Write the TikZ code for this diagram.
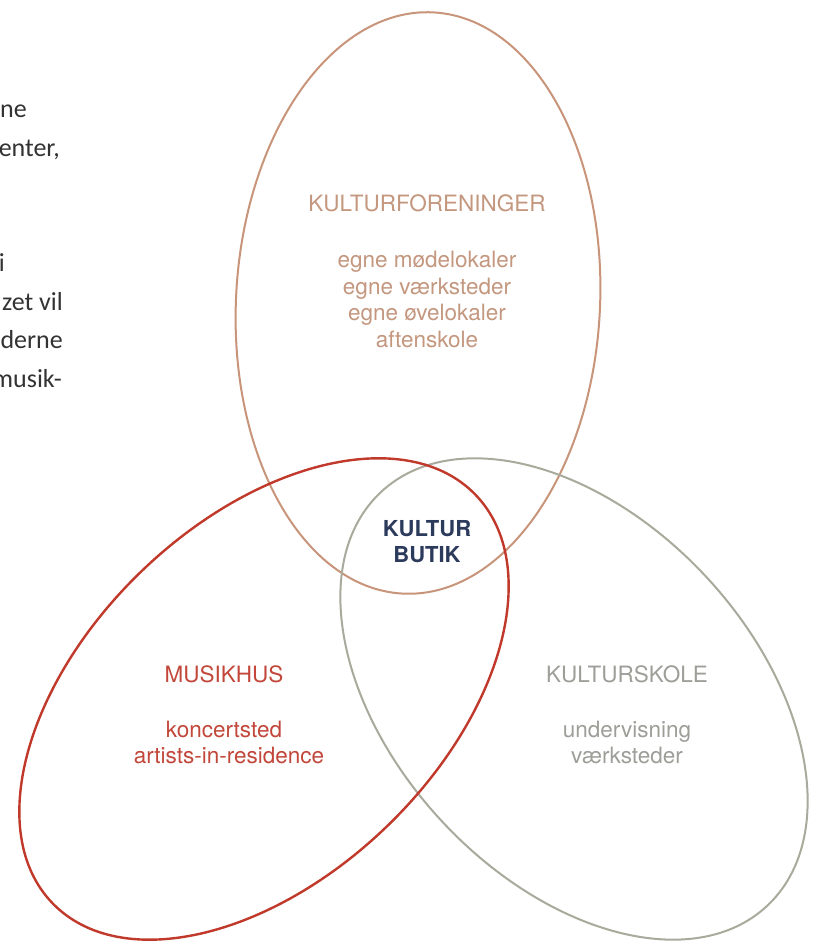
\documentclass[tikz,border=0pt]{standalone}
\usepackage{fontspec}
\setmainfont{TeX Gyre Heros}
\newfontfamily\bodyfont{Carlito}
\definecolor{tanc}{HTML}{C8957B}
\definecolor{tant}{HTML}{C4977F}
\definecolor{redc}{HTML}{C0392B}
\definecolor{redt}{HTML}{C2473A}
\definecolor{grayc}{HTML}{A9A99C}
\definecolor{grayt}{HTML}{9E9E98}
\definecolor{navy}{HTML}{2C3A5C}
\definecolor{bodyc}{HTML}{333333}
\begin{document}
\begin{tikzpicture}[x=1pt,y=1pt,
  lab/.style={font=\fontsize{22.5}{27}\selectfont, anchor=base, inner sep=0pt},
  side/.style={font=\bodyfont\fontsize{26}{31}\selectfont, text=bodyc, anchor=base east, inner sep=0pt},
  ring/.style={line width=2pt}]
\useasboundingbox (0,0) rectangle (822,942);
\clip (0,0) rectangle (822,942);
\fill[white] (0,0) rectangle (822,942);
% ellipses
\draw[ring, tanc] (418,639) ellipse[x radius=182, y radius=291, rotate=-3];
\draw[ring, grayc] (574,243) ellipse[x radius=283, y radius=180, rotate=-47];
\draw[ring, redc, line width=2.4pt] (264,243) ellipse[x radius=294, y radius=177, rotate=44];
% top labels
\node[lab, text=tant] (kf) at (427,730) {KULTURFORENINGER};
\node[lab, text=tant] (kf1) at (427,674) {egne mødelokaler};
\node[lab, text=tant] (kf2) at (427,647) {egne værksteder};
\node[lab, text=tant] (kf3) at (427,621) {egne øvelokaler};
\node[lab, text=tant] (kf4) at (427,594) {aftenskole};
% centre
\node[lab, text=navy, font=\bfseries\fontsize{22}{26}\selectfont] (kb1) at (427,405) {KULTUR};
\node[lab, text=navy, font=\bfseries\fontsize{22}{26}\selectfont] (kb2) at (427,379) {BUTIK};
% left
\node[lab, text=redt] (mh) at (224,259) {MUSIKHUS};
\node[lab, text=redt] (mh1) at (224,204) {koncertsted};
\node[lab, text=redt] (mh2) at (229,178) {artists-in-residence};
% right
\node[lab, text=grayt] (ks) at (627,259) {KULTURSKOLE};
\node[lab, text=grayt] (ks1) at (627,204) {undervisning};
\node[lab, text=grayt] (ks2) at (627,178) {værksteder};
% cut-off body text at left edge
\node[side] (s1) at (27,824) {ne};
\node[side] (s2) at (60,785) {enter,};
\node[side] (s3) at (5,670) {i};
\node[side] (s4) at (63,631) {zet vil};
\node[side] (s5) at (63,593) {derne};
\node[side] (s6) at (62,554) {musik-};
\end{tikzpicture}
\end{document}
